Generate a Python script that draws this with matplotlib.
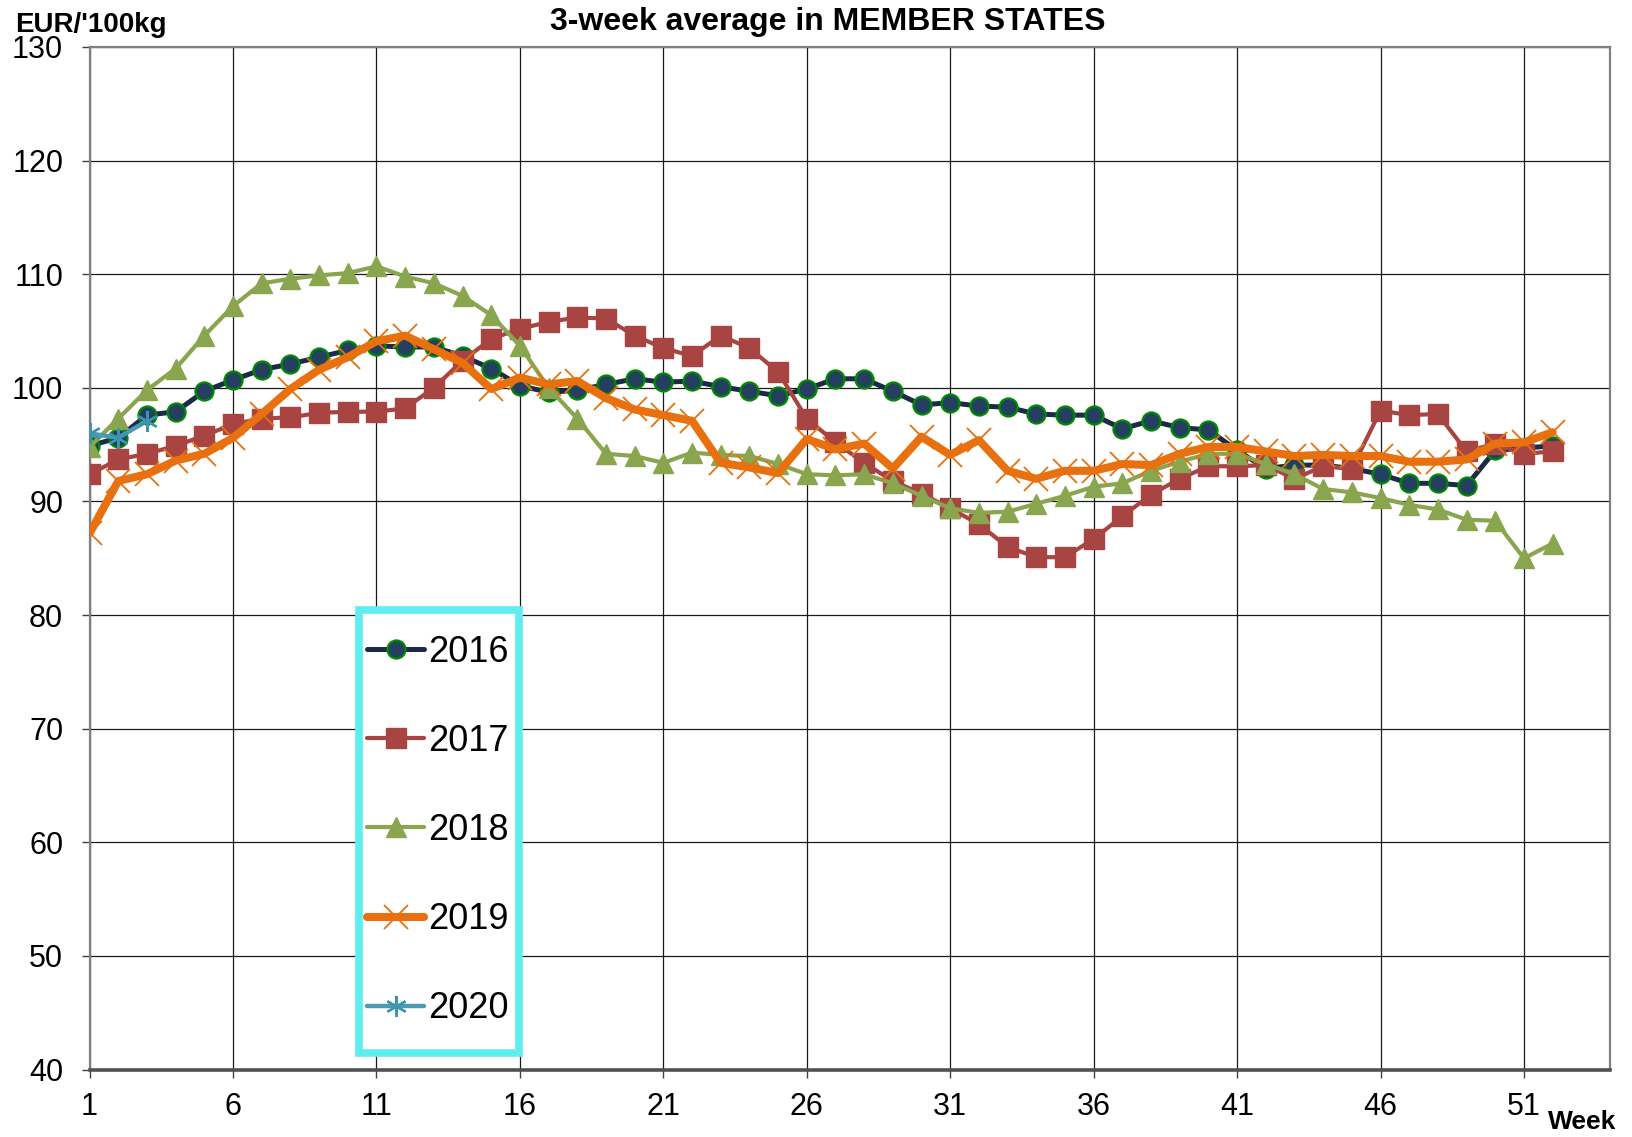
import matplotlib
matplotlib.use("Agg")
import matplotlib.pyplot as plt
from matplotlib.patches import Rectangle

plt.rcParams['font.family'] = ['Liberation Sans', 'DejaVu Sans']

weeks = list(range(1, 53))
weeks_2020 = [1, 2, 3]

y2016 = [94.9, 95.6, 97.6, 97.9, 99.7, 100.7, 101.6, 102.1, 102.7, 103.3,
         103.7, 103.6, 103.6, 102.8, 101.7, 100.2, 99.6, 99.8, 100.3, 100.8,
         100.5, 100.6, 100.1, 99.7, 99.3, 99.9, 100.8, 100.8, 99.7, 98.5,
         98.7, 98.4, 98.3, 97.7, 97.6, 97.6, 96.4, 97.1, 96.5, 96.3,
         94.5, 92.9, 93.2, 93.2, 92.9, 92.4, 91.6, 91.6, 91.4, 94.5,
         94.7, 94.9]
y2017 = [92.4, 93.7, 94.2, 94.9, 95.8, 96.8, 97.3, 97.4, 97.8, 97.9,
         97.9, 98.2, 100.0, 102.4, 104.3, 105.2, 105.8, 106.2, 106.1, 104.6,
         103.5, 102.8, 104.6, 103.5, 101.4, 97.3, 95.2, 93.4, 91.8, 90.7,
         89.4, 88.0, 86.0, 85.1, 85.1, 86.7, 88.7, 90.6, 92.0, 93.1,
         93.1, 93.2, 92.0, 93.1, 92.9, 98.0, 97.6, 97.7, 94.4, 95.1,
         94.2, 94.4]
y2018 = [94.8, 97.3, 99.8, 101.7, 104.6, 107.2, 109.2, 109.6, 109.9, 110.1,
         110.7, 109.8, 109.2, 108.1, 106.4, 103.7, 100.0, 97.3, 94.2, 94.0,
         93.4, 94.3, 94.1, 94.0, 93.3, 92.4, 92.3, 92.4, 91.6, 90.5,
         89.4, 89.0, 89.1, 89.8, 90.5, 91.3, 91.6, 92.7, 93.5, 94.2,
         94.2, 93.3, 92.4, 91.1, 90.8, 90.3, 89.7, 89.3, 88.4, 88.3,
         85.0, 86.3]
y2019 = [87.2, 91.8, 92.4, 93.6, 94.2, 95.6, 97.7, 99.9, 101.6, 102.7,
         104.1, 104.6, 103.4, 102.2, 99.9, 100.9, 100.3, 100.6, 99.1, 98.1,
         97.6, 97.1, 93.4, 93.0, 92.5, 95.5, 94.6, 95.1, 92.9, 95.7,
         94.1, 95.4, 92.7, 92.0, 92.7, 92.7, 93.3, 93.2, 94.2, 94.8,
         94.8, 94.4, 94.0, 94.1, 94.0, 94.0, 93.5, 93.5, 93.7, 95.1,
         95.2, 96.1]
y2020 = [96.0, 95.6, 97.1]

series_labels = ['2016', '2017', '2018', '2019', '2020']
x_ticks = [1, 6, 11, 16, 21, 26, 31, 36, 41, 46, 51]
y_ticks = [40, 50, 60, 70, 80, 90, 100, 110, 120, 130]

W, H = 1633, 1137
fig = plt.figure(figsize=(W / 100, H / 100), dpi=100)
ax = fig.add_axes([89.6 / W, 1 - 1069.6 / H, (1610 - 89.6) / W, (1069.6 - 47) / H])

ax.plot(weeks, y2016, color='#1B2A47', lw=3.6, marker='o', ms=13,
        mfc='#243F60', mec='#008A00', mew=1.6, label=series_labels[0], zorder=3,
        solid_capstyle='round')
ax.plot(weeks, y2017, color='#A84442', lw=3.0, marker='s', ms=14,
        mfc='#A84442', mec='#A84442', label=series_labels[1], zorder=4,
        solid_capstyle='round')
ax.plot(weeks, y2018, color='#89A54E', lw=3.0, marker='^', ms=15,
        mfc='#89A54E', mec='#89A54E', label=series_labels[2], zorder=5,
        solid_capstyle='round')
ax.plot(weeks, y2019, color='#E8700E', lw=5.8, marker='x', ms=17,
        mec='#E8700E', mew=1.3, label=series_labels[3], zorder=6,
        solid_capstyle='round')
ax.plot(weeks_2020, y2020, color='#4A9AB3', lw=3.2, marker=(6, 2, 0), ms=15,
        mec='#3B94B0', mew=1.6, label=series_labels[4], zorder=7,
        solid_capstyle='round')

ax.set_xlim(1, 54)
ax.set_ylim(40, 130)
ax.set_xticks(x_ticks)
ax.set_yticks(y_ticks)
ax.tick_params(axis='both', labelsize=22, length=6, width=1.0, color='#404040',
               direction='out')
ax.tick_params(axis='y', pad=13)
ax.tick_params(axis='x', pad=10)
ax.grid(True, color='#1a1a1a', lw=0.9, zorder=1)
ax.set_axisbelow(True)
for side in ['top', 'right', 'left']:
    ax.spines[side].set_color('#808080')
    ax.spines[side].set_linewidth(1.6)
ax.spines['bottom'].set_color('#505050')
ax.spines['bottom'].set_linewidth(2.6)

fig.text(828 / W, 1 - 30 / H, '3-week average in MEMBER STATES', ha='center',
         va='baseline', fontsize=23, fontweight='bold')
fig.text(15 / W, 1 - 32 / H, "EUR/'100kg", ha='left', va='baseline',
         fontsize=20, fontweight='bold')
fig.text(1616 / W, 1 - 1129 / H, 'Week', ha='right', va='baseline',
         fontsize=19, fontweight='bold')

# legend frame
frame = Rectangle((359 / W, 1 - 1053 / H), (519 - 359) / W, (1053 - 610) / H,
                  transform=fig.transFigure, facecolor='white',
                  edgecolor='#5EEEF0', lw=5.5, zorder=8, clip_on=False)
ax.add_artist(frame)
leg = ax.legend(loc='center left', bbox_to_anchor=(367 / W, 1 - 830.5 / H),
                bbox_transform=fig.transFigure, frameon=False, fontsize=26,
                handlelength=1.58, handletextpad=0.1, labelspacing=1.5,
                borderpad=0, borderaxespad=0)
leg.set_zorder(9)

fig.savefig('out.png', dpi=100)
